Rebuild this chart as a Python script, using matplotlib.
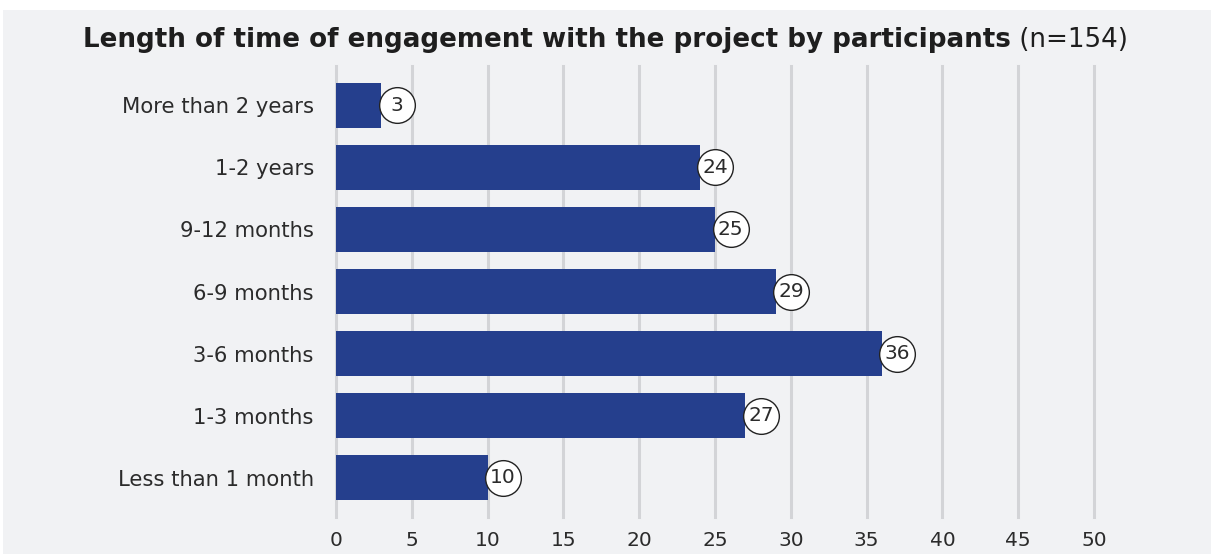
import matplotlib.pyplot as plt
import matplotlib.transforms as mtransforms
from matplotlib.patches import Rectangle

categories = ["More than 2 years", "1-2 years", "9-12 months", "6-9 months",
              "3-6 months", "1-3 months", "Less than 1 month"]
counts = [3, 24, 25, 29, 36, 27, 10]
x_ticks = [0, 5, 10, 15, 20, 25, 30, 35, 40, 45, 50]

bar_color = "#253f8d"
panel_color = "#f1f2f4"
grid_color = "#d3d4d7"
text_color = "#2b2b2b"

fig = plt.figure(figsize=(12.11, 5.54), dpi=100, facecolor="white")
# light grey panel behind everything
fig.patches.append(Rectangle((3 / 1211, 0), 1, 1 - 10 / 554, transform=fig.transFigure,
                             facecolor=panel_color, edgecolor="none", zorder=-10))

ax = fig.add_axes([336 / 1211, 1 - 517 / 554, 758 / 1211, 451 / 554])
ax.set_facecolor("none")

y = list(range(len(categories)))
ax.barh(y, counts, height=0.73, color=bar_color, zorder=2)

# value labels in white circles just past the end of each bar
off = mtransforms.offset_copy(ax.transData, fig=fig, x=11.2, y=0, units="points")
for yi, v in zip(y, counts):
    ax.scatter([v], [yi], s=660, facecolor="white", edgecolor="#222222",
               linewidth=1.0, transform=off, zorder=3, clip_on=False)
    ax.text(v, yi, str(v), transform=off, ha="center", va="center",
            fontsize=14.5, color=text_color, zorder=4)

ax.set_xlim(0, 50)
ax.set_ylim(6.637, -0.637)
ax.set_yticks(y)
ax.set_yticklabels(categories)
ax.set_xticks(x_ticks)
ax.tick_params(axis="y", length=0, pad=16, labelsize=15.2, labelcolor=text_color)
ax.tick_params(axis="x", length=0, pad=10, labelsize=14.5, labelcolor=text_color)

for xt in x_ticks:
    ax.axvline(xt, color=grid_color, linewidth=2.2, zorder=1, clip_on=False)
for s in ax.spines.values():
    s.set_visible(False)

# bold title followed by the sample size in regular weight
t = fig.text(83 / 1211, 1 - 40 / 554, "Length of time of engagement with the project by participants",
             fontsize=18.8, fontweight="bold", color="#1e1e1e", ha="left", va="center")
fig.canvas.draw()
ax.annotate(" (n=154)", xy=(1, 0.5), xycoords=t, ha="left", va="center",
            fontsize=18.8, color="#1e1e1e")

fig.savefig("out.png", dpi=100, facecolor=fig.get_facecolor())
